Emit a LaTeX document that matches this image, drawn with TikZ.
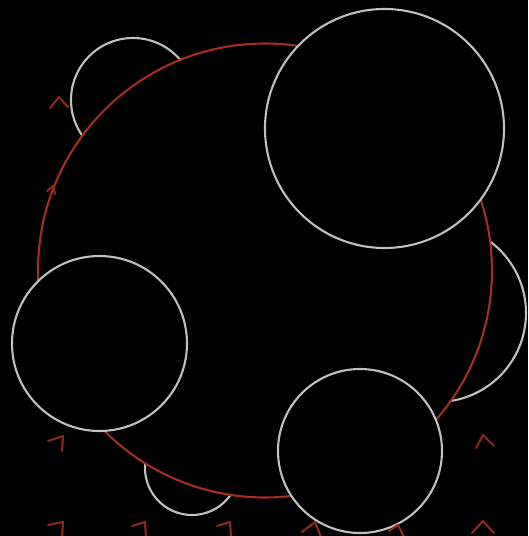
\documentclass[tikz,border=0pt]{standalone}
\begin{document}
\begin{tikzpicture}[x=1pt,y=-1pt]
\definecolor{ringred}{RGB}{165,46,32}
\definecolor{chevred}{RGB}{145,38,28}
\definecolor{ringgray}{RGB}{192,192,192}
\tikzset{
  ball/.style={circle, draw=ringgray, fill=black, line width=2.1pt, inner sep=0pt},
  bigring/.style={circle, draw=ringred, fill=black, line width=2.1pt, inner sep=0pt},
  chev/.style={draw=chevred, line width=2.1pt, line cap=round, line join=round}
}
\fill[black] (0,0) rectangle (528,536);
\useasboundingbox (0,0) rectangle (528,536);
% circles behind the red ring
\node[ball, minimum size=124pt] (tl) at (133,100) {};
\node[ball, minimum size=178pt] (rt) at (437,313) {};
\node[ball, minimum size=94pt] (bt) at (192,468) {};
% red ring
\node[bigring, minimum size=454pt] (main) at (265,270.5) {};
% circles in front
\node[ball, minimum size=239pt] (tr) at (384.5,128.5) {};
\node[ball, minimum size=175pt] (lf) at (99.5,343.5) {};
\node[ball, minimum size=164pt] (br) at (360,451) {};
% chevrons
\draw[chev] (50,108) -- (59,97) -- (68,107);
\draw[chev] (47,191) -- (53,186) -- (55,194);
\draw[chev] (48,441) -- (63,436) -- (62,451);
\draw[chev] (48,525) -- (63,522) -- (62,537);
\draw[chev] (132,526) -- (145,522) -- (146,537);
\draw[chev] (217,526) -- (230,522) -- (231,537);
\draw[chev] (302,532) -- (315,522) -- (321,537);
\draw[chev] (389,531) -- (398,525) -- (404,537);
\draw[chev] (476,448) -- (483,435) -- (494,446);
\draw[chev] (472,533) -- (483,521) -- (494,533);
\end{tikzpicture}
\end{document}
